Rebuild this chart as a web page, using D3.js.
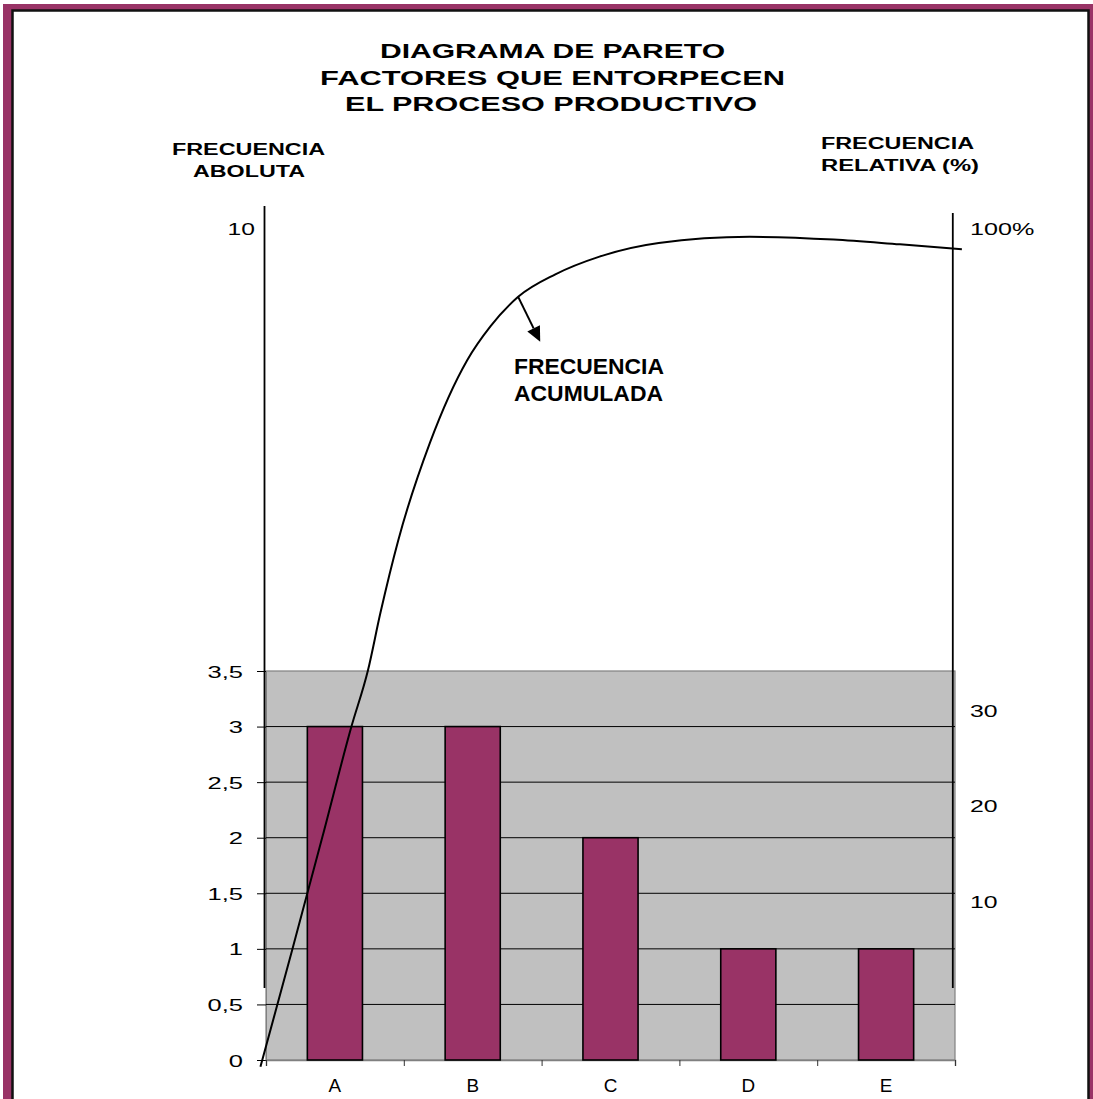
<!DOCTYPE html>
<html>
<head>
<meta charset="utf-8">
<script src="https://cdn.jsdelivr.net/npm/d3@7"></script>
<style>
  html, body { margin: 0; padding: 0; background: #ffffff; }
  svg { display: block; }
  text { font-family: Arial, "Liberation Sans", sans-serif; fill: #000; }
</style>
</head>
<body>
<svg id="chart" width="1093" height="1099"></svg>
<script>
// Pareto data: factors and how often each occurred
const categories = ["A", "B", "C", "D", "E"];
const frequencies = [3, 3, 2, 1, 1];

// Absolute-frequency axis (lower, linear part)
const leftTicks = [0, 0.5, 1, 1.5, 2, 2.5, 3, 3.5];
const leftTickLabels = ["0", "0,5", "1", "1,5", "2", "2,5", "3", "3,5"];
// Top of the broken absolute axis
const leftTopTick = 10;
const leftTopLabel = "10";

// Relative-frequency axis (%)
const rightTicks = [10, 20, 30];
const rightTickLabels = ["10", "20", "30"];
const rightTopLabel = "100%";

// Hand-drawn cumulative curve: position along the category axis (0..5)
// and accumulated frequency (0..10)
const cumulativeX = [-0.04, 0.19, 0.41, 0.62, 0.74, 0.83, 0.96, 1.19, 1.46, 1.63, 1.83, 2.10, 2.42, 2.85, 3.51, 4.12, 4.60, 5.05];
const cumulativeY = [-0.06, 0.99, 2.01, 3.00, 3.51, 4.35, 5.42, 6.85, 8.06, 8.56, 8.99, 9.32, 9.58, 9.78, 9.87, 9.83, 9.76, 9.69];

// Callout arrow pointing away from the curve (category position, frequency)
const arrowFrom = [1.83, 8.99];
const arrowTo = [1.99, 8.33];

const titleLines = ["DIAGRAMA DE PARETO", "FACTORES QUE ENTORPECEN", "EL PROCESO PRODUCTIVO"];
const leftAxisTitle = ["FRECUENCIA", "ABOLUTA"];
const rightAxisTitle = ["FRECUENCIA", "RELATIVA (%)"];
const curveLabel = ["FRECUENCIA", "ACUMULADA"];

const MAROON = "#993366";
const svg = d3.select("#chart");

// ---- page frame ----
svg.append("rect").attr("x", 3).attr("y", 4).attr("width", 1100).attr("height", 1110).attr("fill", MAROON);
svg.append("rect").attr("x", 12.5).attr("y", 10.5).attr("width", 1076).attr("height", 1110)
  .attr("fill", "#fff").attr("stroke", "#111").attr("stroke-width", 2.5);

// ---- scales ----
const plot = { left: 266, right: 955, top: 671, bottom: 1060 };
const x = d3.scaleBand().domain(categories).range([plot.left, plot.right]);
const xPos = d3.scaleLinear().domain([0, categories.length]).range([plot.left, plot.right]);
const y = d3.scaleLinear().domain([0, 3.5]).range([plot.bottom, plot.top]);
// broken axis: linear 0..3.5 in the plot, compressed 3.5..10 above it
const yCurve = d3.scaleLinear().domain([0, 3.5, leftTopTick]).range([plot.bottom, plot.top, 228]);
const yRight = d3.scaleLinear().domain([10, 30]).range([901, 710]);

// ---- plot area ----
svg.append("rect")
  .attr("x", plot.left).attr("y", plot.top)
  .attr("width", plot.right - plot.left).attr("height", plot.bottom - plot.top)
  .attr("fill", "#c0c0c0").attr("stroke", "#808080").attr("stroke-width", 1.2);

// gridlines with outward tick marks
const yAxis = d3.axisLeft(y).tickValues(leftTicks)
  .tickSize(plot.left - 257).tickFormat((d, i) => leftTickLabels[i]);
const gy = svg.append("g").attr("transform", `translate(${plot.left},0)`).call(yAxis);
gy.select(".domain").attr("stroke", "#808080");
gy.selectAll(".tick line").attr("stroke", "#000");
gy.selectAll(".tick text")
  .attr("x", 0).attr("dy", "0.36em")
  .attr("transform", `translate(${243 - plot.left},0) scale(1.5,1)`)
  .attr("font-size", 17).attr("font-family", "Arial, 'Liberation Sans', sans-serif").attr("fill", "#000");

svg.append("g").selectAll("line.grid")
  .data(leftTicks.filter(d => d > 0 && d < 3.5))
  .join("line")
  .attr("x1", plot.left).attr("x2", plot.right)
  .attr("y1", d => y(d)).attr("y2", d => y(d))
  .attr("stroke", "#000").attr("stroke-width", 1);

// category axis: boundary ticks and labels
const gxTicks = svg.append("g").attr("transform", `translate(0,${plot.bottom})`)
  .call(d3.axisBottom(xPos).tickValues(d3.range(categories.length + 1)).tickSize(6).tickFormat(""));
gxTicks.select(".domain").attr("stroke", "#808080").attr("stroke-width", 1.5);
gxTicks.selectAll(".tick line").attr("stroke", "#333");

const gx = svg.append("g").attr("transform", `translate(0,${plot.bottom})`)
  .call(d3.axisBottom(x).tickSize(0).tickPadding(19));
gx.select(".domain").remove();
gx.selectAll(".tick text").attr("font-size", 18)
  .attr("font-family", "Arial, 'Liberation Sans', sans-serif").attr("fill", "#000")
  .attr("transform", "scale(1.05,1)");

// ---- bars ----
const barWidth = x.bandwidth() / 2.5;
svg.append("g").selectAll("rect")
  .data(categories.map((c, i) => ({ c, v: frequencies[i] })))
  .join("rect")
  .attr("x", d => x(d.c) + (x.bandwidth() - barWidth) / 2)
  .attr("y", d => y(d.v))
  .attr("width", barWidth)
  .attr("height", d => y(0) - y(d.v))
  .attr("fill", MAROON).attr("stroke", "#000").attr("stroke-width", 1.6);

// ---- hand-drawn vertical axis lines ----
svg.append("line").attr("x1", 264.5).attr("x2", 264.5).attr("y1", 206).attr("y2", 988)
  .attr("stroke", "#000").attr("stroke-width", 1.8);
svg.append("line").attr("x1", 952.8).attr("x2", 952.8).attr("y1", 213).attr("y2", 988)
  .attr("stroke", "#000").attr("stroke-width", 1.8);

// ---- cumulative curve ----
const line = d3.line()
  .x(d => xPos(d[0])).y(d => yCurve(d[1]))
  .curve(d3.curveMonotoneX);
svg.append("path")
  .datum(cumulativeX.map((v, i) => [v, cumulativeY[i]]))
  .attr("d", line).attr("fill", "none").attr("stroke", "#000").attr("stroke-width", 2);

// callout arrow
const ax1 = xPos(arrowFrom[0]), ay1 = yCurve(arrowFrom[1]);
const ax2 = xPos(arrowTo[0]), ay2 = yCurve(arrowTo[1]);
const ang = Math.atan2(ay2 - ay1, ax2 - ax1);
const headLen = 15, headHalf = 7;
const bx = ax2 - headLen * Math.cos(ang), by = ay2 - headLen * Math.sin(ang);
svg.append("line").attr("x1", ax1).attr("y1", ay1).attr("x2", bx).attr("y2", by)
  .attr("stroke", "#000").attr("stroke-width", 2);
svg.append("path")
  .attr("d", `M${ax2},${ay2} L${bx + headHalf * Math.sin(ang)},${by - headHalf * Math.cos(ang)} L${bx - headHalf * Math.sin(ang)},${by + headHalf * Math.cos(ang)} Z`)
  .attr("fill", "#000");

// ---- texts ----
function stretched(txt, xPosPx, yPosPx, size, sx, anchor, weight) {
  svg.append("text")
    .attr("transform", `translate(${xPosPx},${yPosPx}) scale(${sx},1)`)
    .attr("text-anchor", anchor).attr("font-size", size)
    .attr("font-weight", weight || "normal").text(txt);
}
function fitted(txt, x0, yb, size, width, weight) {
  svg.append("text").attr("x", x0).attr("y", yb)
    .attr("font-size", size).attr("font-weight", weight)
    .attr("textLength", width).attr("lengthAdjust", "spacingAndGlyphs").text(txt);
}

// title
fitted(titleLines[0], 380, 58, 20, 345, "bold");
fitted(titleLines[1], 320, 85, 20, 465, "bold");
fitted(titleLines[2], 345, 111, 20, 412, "bold");

// axis titles
fitted(leftAxisTitle[0], 172, 155, 16, 153, "bold");
fitted(leftAxisTitle[1], 193, 177, 16, 112, "bold");
fitted(rightAxisTitle[0], 821, 149, 16, 153, "bold");
fitted(rightAxisTitle[1], 821, 171, 16, 158, "bold");

// curve label
fitted(curveLabel[0], 514, 374, 22, 150, "bold");
fitted(curveLabel[1], 514, 401, 22, 149, "bold");

// top of absolute axis and relative axis
stretched(leftTopLabel, 255, yCurve(leftTopTick) + 6.5, 17, 1.45, "end");
stretched(rightTopLabel, 970, yCurve(leftTopTick) + 6.5, 17, 1.48, "start");
rightTicks.forEach((t, i) => stretched(rightTickLabels[i], 970, yRight(t) + 6.5, 17, 1.46, "start"));
</script>
</body>
</html>
